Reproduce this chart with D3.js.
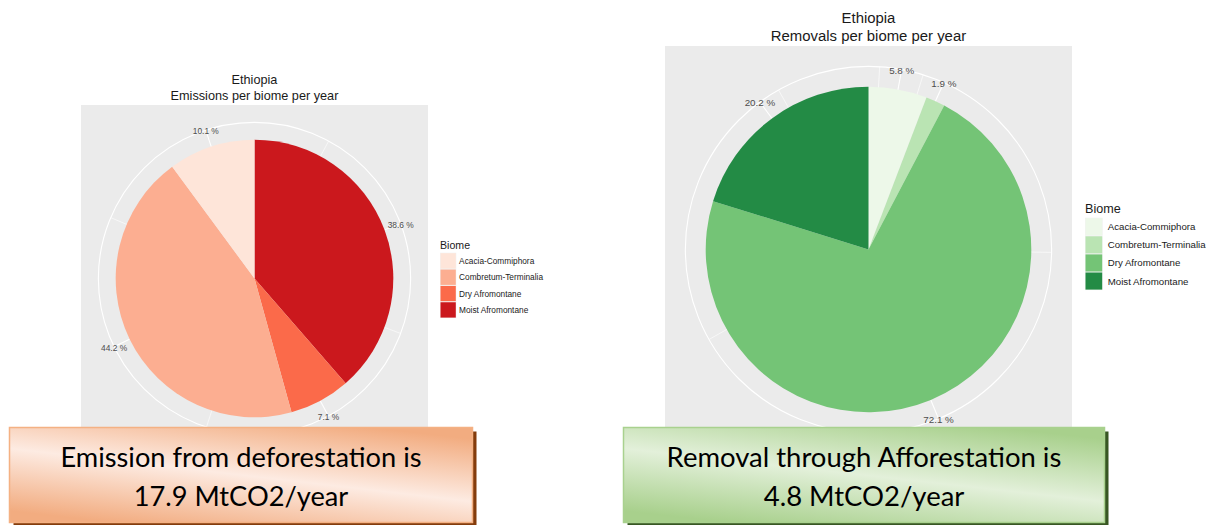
<!DOCTYPE html>
<html>
<head>
<meta charset="utf-8">
<script src="https://cdn.jsdelivr.net/npm/d3@7"></script>
<style>
  html, body { margin: 0; padding: 0; background: #ffffff; }
  svg { display: block; }
</style>
</head>
<body>
<svg id="chart" width="1206" height="525"></svg>
<script>
// ---------------- data ----------------
const biomes = ["Acacia-Commiphora", "Combretum-Terminalia", "Dry Afromontane", "Moist Afromontane"];
const emissionShares = [10.1, 44.2, 7.1, 38.6];   // % per biome
const removalShares  = [5.8, 1.9, 72.1, 20.2];    // % per biome
const emissionOrder = [3, 2, 1, 0];               // clockwise from 12 o'clock
const removalOrder  = [0, 1, 2, 3];
const emissionColors = ["#FEE5D9", "#FCAE91", "#FB6A4A", "#CB181D"];
const removalColors  = ["#EDF8E9", "#BAE4B3", "#74C476", "#238B45"];
const country = "Ethiopia";
const emissionSubtitle = "Emissions per biome per year";
const removalSubtitle = "Removals per biome per year";
const legendTitle = "Biome";
const emissionTotal = 17.9;
const removalTotal = 4.8;
const unitLabel = "MtCO2/year";

// ---------------- drawing ----------------
const svg = d3.select("#chart");
svg.append("rect").attr("width", 1206).attr("height", 525).attr("fill", "#ffffff");
const defs = svg.append("defs");

function drawPie(cfg) {
  const g = svg.append("g");
  const S = cfg.size;
  const cx = cfg.x0 + S / 2, cy = cfg.y0 + S / 2;
  const rPie = 0.4 * S, rOut = 0.45 * S;
  const fs = cfg.fs;

  // panel background
  g.append("rect").attr("x", cfg.x0).attr("y", cfg.y0).attr("width", S).attr("height", S)
    .attr("fill", "#EBEBEB");

  // title
  g.append("text").attr("x", cx).attr("y", cfg.titleY).attr("text-anchor", "middle")
    .attr("font-family", "Liberation Sans, Arial, sans-serif").attr("font-size", fs.title)
    .attr("fill", "#1a1a1a").text(country);
  g.append("text").attr("x", cx).attr("y", cfg.titleY + fs.title * 1.27).attr("text-anchor", "middle")
    .attr("font-family", "Liberation Sans, Arial, sans-serif").attr("font-size", fs.title)
    .attr("fill", "#1a1a1a").text(cfg.subtitle);

  const ordered = cfg.order.map(i => ({ i, v: cfg.values[i] }));
  const theta = d3.scaleLinear().domain([0, d3.sum(ordered, d => d.v)]).range([0, 2 * Math.PI]);

  // major breaks at slice midpoints
  let cum = 0;
  const majors = ordered.map(d => { const m = cum + d.v / 2; cum += d.v; return { m, v: d.v }; });
  const mb = majors.map(d => d.m);
  // minor breaks (midpoints, extended towards limits using first gap)
  const bd = mb[1] - mb[0];
  const ext = [mb[0] - bd, ...mb, mb[mb.length - 1] + bd];
  const minors = [];
  for (let k = 0; k < ext.length - 1; k++) minors.push((ext[k] + ext[k + 1]) / 2);
  const lim = theta.domain();
  const minorIn = minors.filter(m => m >= lim[0] && m <= lim[1]);

  const pt = (a, r) => [cx + r * Math.sin(a), cy - r * Math.cos(a)];

  // outer circle
  g.append("circle").attr("cx", cx).attr("cy", cy).attr("r", rOut)
    .attr("fill", "none").attr("stroke", "#ffffff").attr("stroke-width", 1.1);
  // minor theta grid
  minorIn.forEach(m => {
    const p = pt(theta(m), rOut);
    g.append("line").attr("x1", cx).attr("y1", cy).attr("x2", p[0]).attr("y2", p[1])
      .attr("stroke", "#ffffff").attr("stroke-width", 0.6);
  });
  // major theta grid
  mb.forEach(m => {
    const p = pt(theta(m), rOut);
    g.append("line").attr("x1", cx).attr("y1", cy).attr("x2", p[0]).attr("y2", p[1])
      .attr("stroke", "#ffffff").attr("stroke-width", 1.1);
  });

  // slices
  const pie = d3.pie().sort(null).value(d => d.v).startAngle(0).endAngle(2 * Math.PI);
  const arc = d3.arc().innerRadius(0).outerRadius(rPie);
  g.selectAll("path.slice").data(pie(ordered)).join("path")
    .attr("class", "slice")
    .attr("transform", `translate(${cx},${cy})`)
    .attr("d", arc)
    .attr("fill", d => cfg.colors[d.data.i]);

  // labels
  majors.forEach(d => {
    const p = pt(theta(d.m), rOut);
    g.append("text").attr("x", p[0]).attr("y", p[1] + fs.label * 0.35 + 1)
      .attr("text-anchor", "middle")
      .attr("font-family", "Liberation Sans, Arial, sans-serif").attr("font-size", fs.label)
      .attr("fill", "#4D4D4D").text(d.v.toFixed(1) + " %");
  });

  // legend
  const L = cfg.legend;
  g.append("text").attr("x", L.x).attr("y", L.titleY)
    .attr("font-family", "Liberation Sans, Arial, sans-serif").attr("font-size", fs.legendTitle)
    .attr("fill", "#1a1a1a").text(legendTitle);
  biomes.forEach((b, i) => {
    const y = L.y + i * L.step;
    g.append("rect").attr("x", L.x).attr("y", y).attr("width", L.w).attr("height", L.step)
      .attr("fill", "#F2F2F2");
    g.append("rect").attr("x", L.x + 0.5).attr("y", y + 0.5).attr("width", L.w - 1).attr("height", L.step - 1)
      .attr("fill", cfg.colors[i]);
    g.append("text").attr("x", L.x + L.w + L.gap).attr("y", y + L.step / 2 + fs.legend * 0.36)
      .attr("font-family", "Liberation Sans, Arial, sans-serif").attr("font-size", fs.legend)
      .attr("fill", "#1a1a1a").text(b);
  });
}

drawPie({
  x0: 81, y0: 105, size: 347, titleY: 84, subtitle: emissionSubtitle,
  values: emissionShares, order: emissionOrder, colors: emissionColors,
  fs: { title: 12.7, label: 8.4, legend: 8.3, legendTitle: 10.6 },
  legend: { x: 440, titleY: 248.8, y: 252.7, step: 16.35, w: 16.3, gap: 2.8 }
});
drawPie({
  x0: 665, y0: 46, size: 407, titleY: 22.5, subtitle: removalSubtitle,
  values: removalShares, order: removalOrder, colors: removalColors,
  fs: { title: 14.9, label: 9.8, legend: 9.7, legendTitle: 12.6 },
  legend: { x: 1085, titleY: 212.6, y: 217.7, step: 18.1, w: 17.7, gap: 5 }
});

// ---------------- callout boxes ----------------
function gradient(id, edge, light) {
  const lg = defs.append("linearGradient").attr("id", id)
    .attr("x1", "0.78").attr("y1", "0").attr("x2", "0.22").attr("y2", "1");
  lg.append("stop").attr("offset", "0").attr("stop-color", edge);
  lg.append("stop").attr("offset", "0.5").attr("stop-color", light);
  lg.append("stop").attr("offset", "1").attr("stop-color", edge);
}
gradient("gOrange", "#F2AC80", "#FDEBE2");
gradient("gGreen", "#A8D08C", "#E3F0DA");

function callout(cfg) {
  const g = svg.append("g");
  g.append("rect").attr("x", cfg.x + 4).attr("y", cfg.y + 4).attr("width", cfg.w).attr("height", cfg.h)
    .attr("fill", cfg.shadow);
  g.append("rect").attr("x", cfg.x).attr("y", cfg.y).attr("width", cfg.w).attr("height", cfg.h)
    .attr("fill", `url(#${cfg.grad})`).attr("stroke", cfg.stroke).attr("stroke-width", 1.5);
  const cx = cfg.x + cfg.w / 2;
  const t1 = g.append("text").attr("x", cx).attr("y", cfg.y + 39.5).attr("text-anchor", "middle")
    .attr("font-family", "Lato, 'Open Sans', sans-serif").attr("font-size", 26).attr("fill", "#000")
    .text(cfg.line1);
  const w = t1.node().getComputedTextLength();
  const fsz = 26 * cfg.target / w;
  t1.attr("font-size", fsz);
  g.append("text").attr("x", cx).attr("y", cfg.y + 78).attr("text-anchor", "middle")
    .attr("font-family", "Lato, 'Open Sans', sans-serif").attr("font-size", fsz).attr("fill", "#000")
    .text(cfg.line2);
}
callout({ x: 9.5, y: 427.5, w: 463, h: 95, grad: "gOrange", stroke: "#F4B183", shadow: "#843C0C",
  line1: "Emission from deforestation is", line2: `${emissionTotal} ${unitLabel}`, target: 361 });
callout({ x: 623.5, y: 427.5, w: 481, h: 95, grad: "gGreen", stroke: "#A9D18E", shadow: "#385723",
  line1: "Removal through Afforestation is", line2: `${removalTotal} ${unitLabel}`, target: 395 });
</script>
</body>
</html>
